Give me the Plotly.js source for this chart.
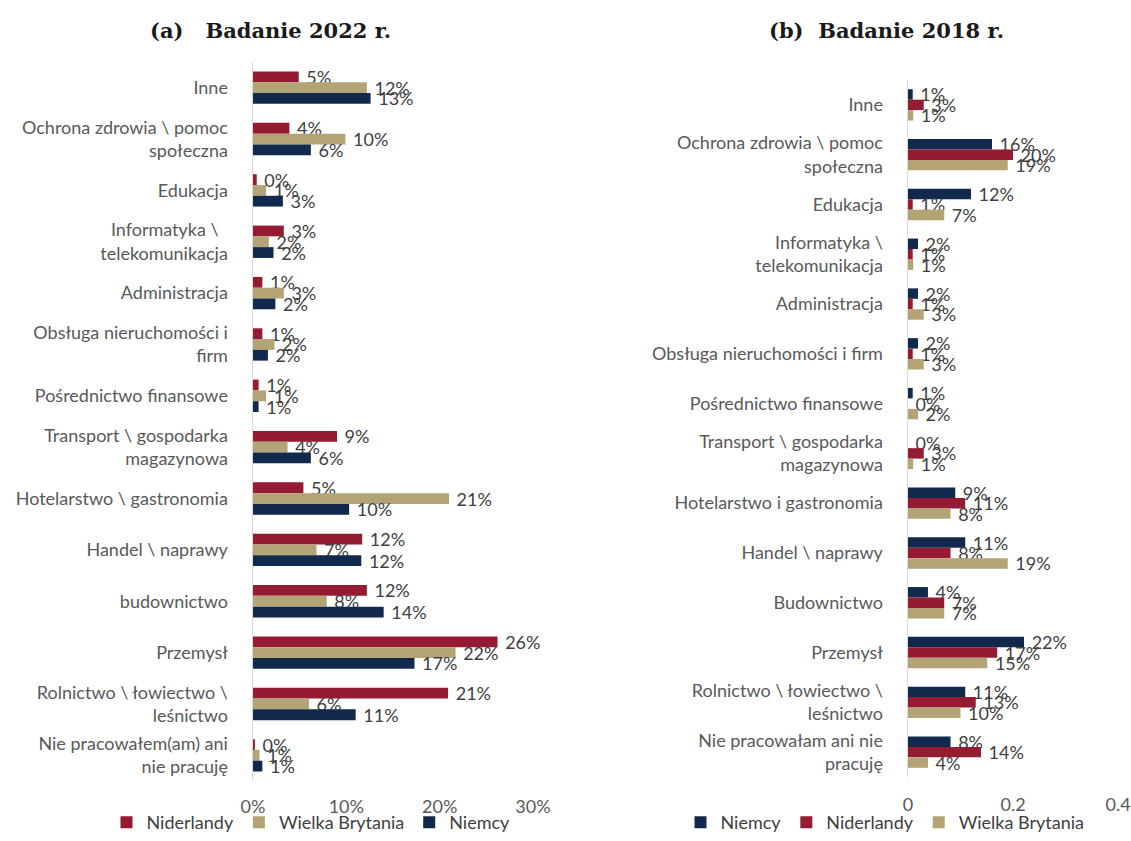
<!DOCTYPE html>
<html><head><meta charset="utf-8">
<script src="https://cdn.plot.ly/plotly-3.0.1.min.js"></script>
<style>html,body{margin:0;padding:0;background:#fff}#chart{width:1131px;height:841px}</style>
</head><body><div id="chart"></div>
<script>
const cats2022 = ["Inne","Ochrona zdrowia \\ pomoc<br>społeczna","Edukacja","Informatyka \\  <br>telekomunikacja","Administracja","Obsługa nieruchomości i<br>firm","Pośrednictwo finansowe","Transport \\ gospodarka<br>magazynowa","Hotelarstwo \\ gastronomia","Handel \\ naprawy","budownictwo","Przemysł","Rolnictwo \\ łowiectwo \\<br>leśnictwo","Nie pracowałem(am) ani<br>nie pracuję"];
const nl2022 = [0.049,0.039,0.004,0.033,0.010,0.010,0.006,0.090,0.054,0.117,0.122,0.262,0.209,0.002];
const gb2022 = [0.122,0.099,0.014,0.017,0.033,0.023,0.014,0.037,0.210,0.068,0.079,0.217,0.060,0.007];
const de2022 = [0.126,0.062,0.032,0.022,0.024,0.016,0.006,0.062,0.103,0.116,0.140,0.173,0.110,0.010];

const cats2018 = ["Inne","Ochrona zdrowia \\ pomoc<br>społeczna","Edukacja","Informatyka \\<br>telekomunikacja","Administracja","Obsługa nieruchomości i firm","Pośrednictwo finansowe","Transport \\ gospodarka<br>magazynowa","Hotelarstwo i gastronomia","Handel \\ naprawy","Budownictwo","Przemysł","Rolnictwo \\ łowiectwo \\<br>leśnictwo","Nie pracowałam ani nie<br>pracuję"];
const de2018 = [0.009,0.160,0.120,0.019,0.019,0.019,0.009,0.000,0.090,0.109,0.038,0.221,0.109,0.081];
const nl2018 = [0.030,0.200,0.009,0.009,0.009,0.009,0.000,0.030,0.109,0.081,0.069,0.170,0.129,0.139];
const gb2018 = [0.010,0.190,0.069,0.010,0.030,0.030,0.019,0.010,0.081,0.190,0.069,0.151,0.100,0.038];

const RED = '#951b32', TAN = '#b3a475', NAVY = '#11294c';
const FONT = 'Lato, "Open Sans", sans-serif';

function bar(name, x, y, color, xa, ya, legend){
  return {type:'bar', orientation:'h', name, x, y, xaxis:xa, yaxis:ya, legend,
    marker:{color}, texttemplate:'\u00a0%{x:.0%}', textposition:'outside',
    constraintext:'none', cliponaxis:false,
    textfont:{family:FONT, size:18, color:'#404040'}, hoverinfo:'skip'};
}

const data = [
  bar('Niderlandy', nl2022, cats2022, RED, 'x', 'y', 'legend'),
  bar('Wielka Brytania', gb2022, cats2022, TAN, 'x', 'y', 'legend'),
  bar('Niemcy', de2022, cats2022, NAVY, 'x', 'y', 'legend'),
  bar('Niemcy', de2018, cats2018, NAVY, 'x2', 'y2', 'legend2'),
  bar('Niderlandy', nl2018, cats2018, RED, 'x2', 'y2', 'legend2'),
  bar('Wielka Brytania', gb2018, cats2018, TAN, 'x2', 'y2', 'legend2'),
];

const tickfont = {family:FONT, size:18, color:'#595959'};
const layout = {
  width:1131, height:841, margin:{l:0,r:0,t:0,b:0},
  paper_bgcolor:'#fff', plot_bgcolor:'#fff',
  barmode:'group', bargap:0.37, bargroupgap:0,
  showlegend:true,
  font:{family:FONT, color:'#404040'},
  xaxis:{domain:[253/1131, 533/1131], range:[0,0.3], dtick:0.1, tickformat:'.0%',
    showgrid:false, zeroline:false, showline:false, ticks:'', tickfont, ticklabelstandoff:13, anchor:'y'},
  yaxis:{domain:[1-781/841, 1-62/841], autorange:'reversed', showgrid:false, zeroline:false,
    showline:true, linecolor:'#d9d9d9', linewidth:1.5, ticks:'', tickfont, ticklabelstandoff:20, anchor:'x', automargin:false},
  xaxis2:{domain:[908/1131, 1118/1131], range:[0,0.4], dtick:0.2,
    showgrid:false, zeroline:false, showline:false, ticks:'', tickfont, ticklabelstandoff:15, anchor:'y2'},
  yaxis2:{domain:[1-777/841, 1-80/841], autorange:'reversed', showgrid:false, zeroline:false,
    showline:true, linecolor:'#d9d9d9', linewidth:1.5, ticks:'', tickfont, ticklabelstandoff:20, anchor:'x2', automargin:false},
  legend:{orientation:'h', x:311/1131, xanchor:'center', y:0, yanchor:'bottom', itemwidth:30,
    font:{family:FONT, size:18, color:'#404040'}, traceorder:'normal', bgcolor:'rgba(0,0,0,0)'},
  legend2:{orientation:'h', x:885/1131, xanchor:'center', y:0, yanchor:'bottom', itemwidth:30,
    font:{family:FONT, size:18, color:'#404040'}, traceorder:'normal', bgcolor:'rgba(0,0,0,0)'},
  annotations:[
    {text:'<b>(a)   Badanie 2022 r.</b>', xref:'paper', yref:'paper', x:270/1131, y:1-30/841,
     xanchor:'center', yanchor:'middle', showarrow:false, font:{family:'"DejaVu Serif", serif', size:21, color:'#1a1a1a'}},
    {text:'<b>(b)  Badanie 2018 r.</b>', xref:'paper', yref:'paper', x:886/1131, y:1-30/841,
     xanchor:'center', yanchor:'middle', showarrow:false, font:{family:'"DejaVu Serif", serif', size:21, color:'#1a1a1a'}}
  ]
};
Plotly.newPlot('chart', data, layout, {staticPlot:true, displayModeBar:false});
</script>
</body></html>
